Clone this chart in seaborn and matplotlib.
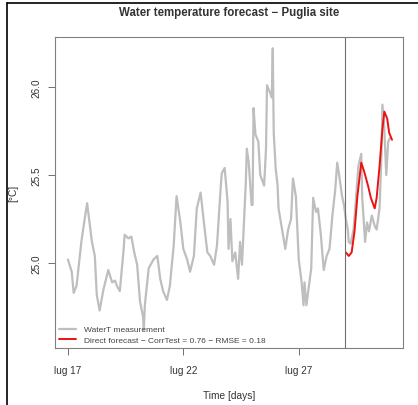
import pandas as pd
import numpy as np
import matplotlib
matplotlib.use("Agg")
import matplotlib.pyplot as plt
import seaborn as sns
from matplotlib.lines import Line2D

# misure (ore dal 17 luglio 00:00) e temperatura dell'acqua [°C]
meas_hours = [0, 4, 6, 9, 14, 18, 20, 25, 28, 30, 33, 37, 42, 46, 49, 51, 54, 58, 59, 63,
              66, 69, 72, 75, 78, 79, 80, 84, 86, 89, 93, 96, 99, 103, 106, 110, 113, 117, 120, 124,
              127, 131, 134, 138, 141, 145, 148, 152, 155, 159, 160, 163, 166, 167, 169, 171, 174, 177, 179, 181,
              185, 186, 188, 191, 192, 193, 195, 198, 200, 204, 206, 207, 210, 212, 213, 214, 216, 218, 219, 223,
              226, 229, 232, 234, 237, 240, 243, 245, 246, 248, 253, 255, 258, 260, 263, 266, 269, 272, 275, 278,
              280, 282, 285, 287, 289, 291, 292, 294, 297, 299, 302, 305, 306, 309, 311, 313, 316, 319, 321, 324,
              326, 327, 329, 331, 333, 335]
meas_temp = [25.02, 24.95, 24.83, 24.87, 25.12, 25.27, 25.34, 25.12, 25.04, 24.82, 24.73, 24.85, 24.96, 24.89, 24.90, 24.87, 24.84, 25.08, 25.16, 25.14,
             25.15, 25.06, 24.99, 24.78, 24.70, 24.62, 24.76, 24.97, 24.99, 25.02, 25.04, 24.91, 24.84, 24.79, 24.87, 25.10, 25.38, 25.23, 25.08, 25.02,
             24.95, 25.04, 25.31, 25.40, 25.25, 25.06, 25.04, 24.99, 25.10, 25.44, 25.51, 25.54, 25.35, 25.08, 25.25, 25.01, 25.06, 24.91, 25.12, 24.99,
             25.46, 25.65, 25.57, 25.33, 25.33, 25.88, 25.73, 25.69, 25.50, 25.44, 25.65, 26.01, 25.97, 25.94, 26.22, 25.74, 25.54, 25.44, 25.31, 25.18,
             25.08, 25.19, 25.25, 25.48, 25.38, 25.02, 24.89, 24.76, 24.89, 24.76, 24.97, 25.37, 25.29, 25.31, 25.16, 24.96, 25.04, 25.08, 25.27, 25.42,
             25.57, 25.50, 25.38, 25.33, 25.25, 25.19, 25.12, 25.11, 25.19, 25.33, 25.55, 25.62, 25.37, 25.12, 25.23, 25.18, 25.27, 25.21, 25.19, 25.31,
             25.61, 25.90, 25.76, 25.50, 25.69, 25.71]

# previsione diretta
fc_hours = [289, 292, 295, 298, 301, 305, 308, 312, 315, 319, 321, 324, 327, 329, 332, 334, 337]
fc_temp = [25.06, 25.04, 25.06, 25.18, 25.38, 25.57, 25.52, 25.44, 25.37, 25.31, 25.37, 25.55, 25.76, 25.86, 25.82, 25.74, 25.70]

start = pd.Timestamp("2023-07-17")
forecast_start = pd.Timestamp("2023-07-29")
tick_dates = ["2023-07-17", "2023-07-22", "2023-07-27"]
tick_labels = ["lug 17", "lug 22", "lug 27"]
y_ticks = [25.0, 25.5, 26.0]

meas_df = pd.DataFrame({"time": start + pd.to_timedelta(meas_hours, unit="h"), "temp": meas_temp})
fc_df = pd.DataFrame({"time": start + pd.to_timedelta(fc_hours, unit="h"), "temp": fc_temp})

sns.set_style("white")
plt.rcParams['font.family'] = ['Liberation Sans', 'DejaVu Sans']

fig = plt.figure(figsize=(4.18, 4.06), dpi=100)
ax = fig.add_axes([55/418, 1-349/406, 348/418, 311/406])

sns.lineplot(data=meas_df, x="time", y="temp", ax=ax, color="#bebebe", linewidth=1.6,
             label="WaterT measurement")
sns.lineplot(data=fc_df, x="time", y="temp", ax=ax, color="#ee1111", linewidth=1.4,
             label="Direct forecast \u2212 CorrTest = 0.76 \u2212 RMSE = 0.18")
ax.axvline(forecast_start, color="#707070", linewidth=0.8)

t0 = meas_df["time"].min()
t1 = meas_df["time"].max()
pad = (t1 - t0) * 0.04
ax.set_xlim(t0 - pad, t1 + pad)
ax.set_ylim(24.517, 26.284)

ax.set_xticks(pd.to_datetime(tick_dates))
ax.set_xticklabels(tick_labels)
ax.set_yticks(y_ticks)
ax.set_yticklabels([f"{v:.1f}" for v in y_ticks], rotation=90, va="center")
ax.tick_params(bottom=True, left=True, direction="out", length=5, width=0.7, color="#707070",
               labelsize=7.2, labelcolor="#333333", pad=5)
ax.tick_params(axis="x", pad=7)

for s in ax.spines.values():
    s.set_visible(True)
    s.set_color("#808080")
    s.set_linewidth(0.8)

ax.set_xlabel("Time [days]", fontsize=7.3, color="#333333", labelpad=11)
ax.set_ylabel("[°C]", fontsize=7.3, color="#333333", labelpad=9)
ax.set_title("Water temperature forecast \u2212 Puglia site", fontsize=8.3,
             fontweight="bold", color="#333333", pad=16)

leg = ax.legend(loc="lower left", borderaxespad=0, fontsize=6.0, frameon=True,
                fancybox=False, framealpha=0, edgecolor="#808080",
                handlelength=2.0, handletextpad=1.0, labelspacing=0.3, borderpad=0.5)
for t in leg.get_texts():
    t.set_color("#444444")

# bordo nero dello screenshot
fig.add_artist(Line2D([7/418, 7/418], [0, 1-4/406], color="black", linewidth=1.2))
fig.add_artist(Line2D([7/418, 1], [1-4/406, 1-4/406], color="black", linewidth=1.2))

plt.savefig("out.png", dpi=100)
